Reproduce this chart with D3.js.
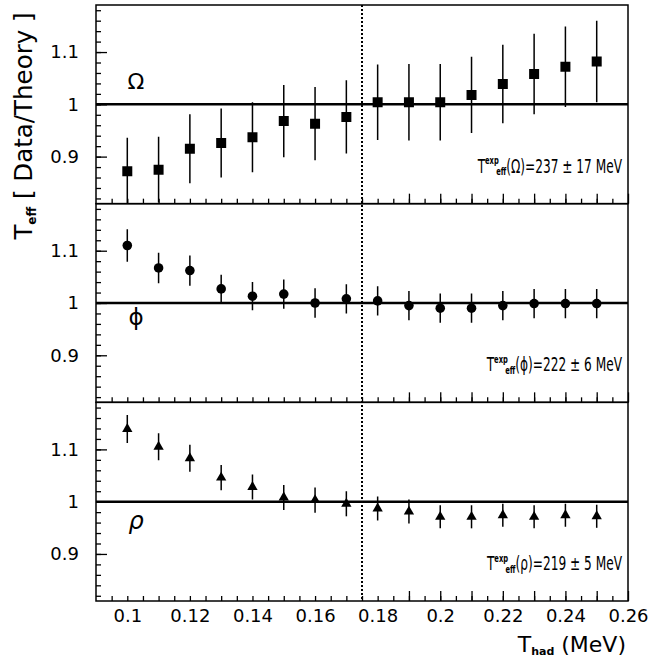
<!DOCTYPE html>
<html>
<head>
<meta charset="utf-8">
<script src="https://cdn.jsdelivr.net/npm/d3@7"></script>
<style>
  html, body { margin: 0; padding: 0; background: #fff; }
  svg { display: block; }
  text { font-family: "DejaVu Sans", sans-serif; fill: #000; }
</style>
</head>
<body>
<svg id="chart" width="650" height="660"></svg>
<script>
// ---- data ----
const thad = [0.10, 0.11, 0.12, 0.13, 0.14, 0.15, 0.16, 0.17, 0.18, 0.19, 0.20, 0.21, 0.22, 0.23, 0.24, 0.25];

const omegaVals = [0.872, 0.875, 0.915, 0.926, 0.937, 0.968, 0.963, 0.976, 1.004, 1.004, 1.004, 1.018, 1.039, 1.058, 1.072, 1.082];
const omegaErr  = [0.064, 0.063, 0.066, 0.066, 0.067, 0.069, 0.070, 0.070, 0.072, 0.073, 0.073, 0.073, 0.075, 0.077, 0.077, 0.078];

const phiVals = [1.110, 1.067, 1.062, 1.027, 1.013, 1.017, 1.000, 1.008, 1.004, 0.995, 0.990, 0.990, 0.995, 0.999, 0.999, 0.999];
const phiErr  = [0.031, 0.029, 0.029, 0.027, 0.027, 0.028, 0.028, 0.028, 0.028, 0.028, 0.028, 0.028, 0.028, 0.028, 0.028, 0.028];

const rhoVals = [1.139, 1.105, 1.083, 1.046, 1.028, 1.008, 1.003, 0.996, 0.987, 0.981, 0.971, 0.971, 0.974, 0.971, 0.974, 0.972];
const rhoErr  = [0.027, 0.026, 0.026, 0.024, 0.024, 0.024, 0.024, 0.024, 0.023, 0.023, 0.022, 0.022, 0.022, 0.022, 0.022, 0.022];

const panelNames = ["Ω", "ϕ", "ρ"];
const panelTexp = ["237 ± 17 MeV", "222 ± 6 MeV", "219 ± 5 MeV"];
const yTickLabels = [0.9, 1, 1.1];
const xTickLabels = [0.1, 0.12, 0.14, 0.16, 0.18, 0.2, 0.22, 0.24, 0.26];
const xDomain = [0.09, 0.26];
const yDomain = [0.81, 1.19];
const tChem = 0.175;

// ---- layout ----
const svg = d3.select("#chart");
const L = 96, R = 628, T = 5, B = 601;
const panelH = (B - T) / 3;
const x = d3.scaleLinear().domain(xDomain).range([L, R]);

const series = [
  { vals: omegaVals, errs: omegaErr, sym: d3.symbolSquare, size: 100 },
  { vals: phiVals, errs: phiErr, sym: d3.symbolCircle, size: 72 },
  { vals: rhoVals, errs: rhoErr, sym: d3.symbolTriangle, size: 46 }
];

const labelPos = [
  { y: 89, size: 22, italic: false },
  { y: 325, size: 23, italic: false },
  { y: 529, size: 24, italic: true }
];

const xMajor = d3.range(19, 27).map(i => +(i * 0.01).toFixed(3)).filter(v => v > 0.0905);
const xMinor = d3.range(19, 53).map(i => +(i * 0.005).toFixed(4)).filter(v => v > 0.0905 && v < 0.2595);
const yMinor = d3.range(41, 60).map(i => +(i * 0.02).toFixed(3));

series.forEach((s, i) => {
  const top = T + i * panelH, bot = top + panelH;
  const y = d3.scaleLinear().domain(yDomain).range([bot, top]);
  const g = svg.append("g");

  const clipId = "clip" + i;
  svg.append("clipPath").attr("id", clipId).append("rect")
    .attr("x", L).attr("y", top).attr("width", R - L).attr("height", panelH);

  // y minor ticks
  g.append("g").attr("transform", `translate(${L},0)`)
    .call(d3.axisLeft(y).tickValues(yMinor).tickSize(-5).tickFormat(""))
    .call(a => a.select(".domain").remove())
    .call(a => a.selectAll("line").attr("stroke-width", 1.3));
  // y major ticks + labels
  g.append("g").attr("transform", `translate(${L},0)`)
    .call(d3.axisLeft(y).tickValues(yTickLabels).tickSize(-11).tickPadding(17)
      .tickFormat(d => d === 1 ? "1" : d3.format(".1f")(d)))
    .call(a => a.select(".domain").remove())
    .call(a => a.selectAll("line").attr("stroke-width", 1.3))
    .call(a => a.selectAll("text").attr("font-size", 18).attr("font-family", "DejaVu Sans, sans-serif"));

  // x ticks at bottom (inward)
  g.append("g").attr("transform", `translate(0,${bot})`)
    .call(d3.axisBottom(x).tickValues(xMinor).tickSize(-5).tickFormat(""))
    .call(a => a.select(".domain").remove())
    .call(a => a.selectAll("line").attr("stroke-width", 1.3));
  g.append("g").attr("transform", `translate(0,${bot})`)
    .call(d3.axisBottom(x).tickValues(xMajor).tickSize(-10).tickFormat(""))
    .call(a => a.select(".domain").remove())
    .call(a => a.selectAll("line").attr("stroke-width", 1.3));

  // frame
  g.append("rect").attr("x", L).attr("y", top).attr("width", R - L).attr("height", panelH)
    .attr("fill", "none").attr("stroke", "#000").attr("stroke-width", 1.5);

  // reference line at 1
  g.append("line").attr("x1", L).attr("x2", R).attr("y1", y(1)).attr("y2", y(1))
    .attr("stroke", "#000").attr("stroke-width", 2.5);

  // error bars
  const pts = thad.map((t, k) => ({ t, v: s.vals[k], e: s.errs[k] }));
  g.append("g").attr("clip-path", `url(#${clipId})`)
    .selectAll("line").data(pts).join("line")
    .attr("x1", d => x(d.t)).attr("x2", d => x(d.t))
    .attr("y1", d => y(d.v - d.e)).attr("y2", d => y(d.v + d.e))
    .attr("stroke", "#000").attr("stroke-width", 1.5);

  // markers
  g.append("g").attr("clip-path", `url(#${clipId})`)
    .selectAll("path").data(pts).join("path")
    .attr("d", d3.symbol().type(s.sym).size(s.size))
    .attr("transform", d => `translate(${x(d.t)},${y(d.v)})`)
    .attr("fill", "#000");

  // panel particle label
  const lp = labelPos[i];
  g.append("text").attr("x", 136).attr("y", lp.y).attr("text-anchor", "middle")
    .attr("font-size", lp.size).attr("font-style", lp.italic ? "italic" : "normal")
    .text(panelNames[i]);

  // T_eff^exp annotation
  const ann = g.append("text")
    .attr("transform", `translate(622,${bot - 31}) scale(0.84,1.4)`)
    .attr("text-anchor", "end")
    .attr("font-family", "Liberation Sans, Arial, sans-serif")
    .attr("font-size", 14.5);
  ann.append("tspan").text("T");
  ann.append("tspan").attr("font-size", 8).attr("dy", -6).attr("font-weight", "bold").text("exp");
  ann.append("tspan").attr("font-size", 8).attr("dy", 8).attr("dx", -3).attr("font-weight", "bold").text("eff");
  ann.append("tspan").attr("dy", -2).text("(" + panelNames[i] + ")=" + panelTexp[i]);
});

// vertical dotted line
svg.append("line").attr("x1", x(tChem)).attr("x2", x(tChem)).attr("y1", T).attr("y2", B)
  .attr("stroke", "#000").attr("stroke-width", 2).attr("stroke-dasharray", "2,2");

// x tick labels (bottom panel)
svg.append("g").attr("transform", `translate(0,${B})`)
  .call(d3.axisBottom(x).tickValues(xTickLabels).tickSize(0).tickPadding(8)
    .tickFormat(d => String(+d.toFixed(2))))
  .call(a => a.select(".domain").remove())
  .call(a => a.selectAll("text").attr("font-size", 18).attr("font-family", "DejaVu Sans, sans-serif"));

// x axis title
const xt = svg.append("text").attr("x", 626).attr("y", 652).attr("text-anchor", "end").attr("font-size", 22);
xt.append("tspan").text("T");
xt.append("tspan").attr("font-size", 11).attr("font-weight", "bold").attr("dy", 3).text("had");
xt.append("tspan").attr("dy", -3).text(" (MeV)");

// y axis title
const yt = svg.append("text").attr("transform", "translate(32,126) rotate(-90)")
  .attr("text-anchor", "middle").attr("font-size", 24.5);
yt.append("tspan").text("T");
yt.append("tspan").attr("font-size", 12).attr("font-weight", "bold").attr("dy", 4).text("eff");
yt.append("tspan").attr("dy", -4).text(" [ Data/Theory ]");
</script>
</body>
</html>
